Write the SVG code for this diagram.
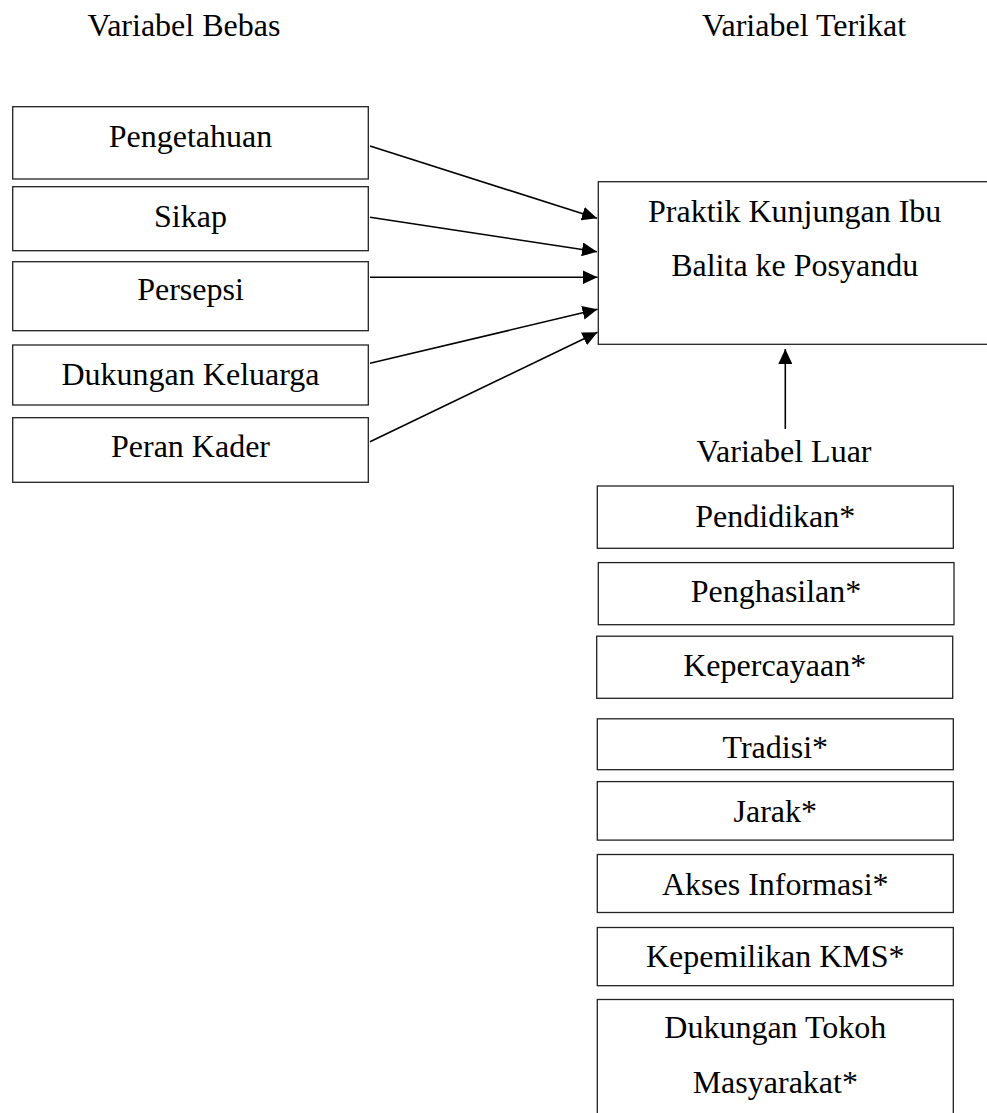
<svg xmlns="http://www.w3.org/2000/svg" width="987" height="1113" viewBox="0 0 987 1113">
<defs>
<marker id="ah" markerWidth="16" markerHeight="14" refX="15" refY="7" orient="auto" markerUnits="userSpaceOnUse">
<path d="M0,0 L15,7 L0,14 Z" fill="#000"/>
</marker>
<style>
.box{fill:#fff;stroke:#222;stroke-width:1.3}
.t{font-family:"Liberation Serif","Times New Roman",serif;font-size:32px;fill:#000;text-anchor:middle}
.c{stroke:#000;stroke-width:1.6;fill:none;marker-end:url(#ah)}
</style>
</defs>
<rect width="987" height="1113" fill="#fff"/>
<g id="titles">
<text class="t" x="184" y="36">Variabel Bebas</text>
<text class="t" x="804" y="36">Variabel Terikat</text>
<text class="t" x="784" y="462">Variabel Luar</text>
</g>
<g id="n-pengetahuan"><rect class="box" x="12.7" y="106.7" width="355.6" height="72.3"/><text class="t" x="190.5" y="147">Pengetahuan</text></g>
<g id="n-sikap"><rect class="box" x="12.7" y="186.7" width="355.6" height="64"/><text class="t" x="190.5" y="227">Sikap</text></g>
<g id="n-persepsi"><rect class="box" x="12.7" y="261.7" width="355.6" height="69"/><text class="t" x="190.5" y="300">Persepsi</text></g>
<g id="n-dukungan-keluarga"><rect class="box" x="12.7" y="345" width="355.6" height="60"/><text class="t" x="190.5" y="385">Dukungan Keluarga</text></g>
<g id="n-peran-kader"><rect class="box" x="12.7" y="417.7" width="355.6" height="64.6"/><text class="t" x="190.5" y="457">Peran Kader</text></g>
<g id="n-praktik"><rect class="box" x="598.3" y="181.7" width="393" height="162.6"/><text class="t" x="794.7" y="221.7">Praktik Kunjungan Ibu</text><text class="t" x="794.7" y="275.7">Balita ke Posyandu</text></g>
<g id="n-pendidikan"><rect class="box" x="597.3" y="486" width="356" height="62.3"/><text class="t" x="775.3" y="526.7">Pendidikan*</text></g>
<g id="n-penghasilan"><rect class="box" x="598.3" y="562.6" width="355.7" height="62.1"/><text class="t" x="776" y="602">Penghasilan*</text></g>
<g id="n-kepercayaan"><rect class="box" x="596.7" y="636.2" width="356" height="62.1"/><text class="t" x="774.7" y="676">Kepercayaan*</text></g>
<g id="n-tradisi"><rect class="box" x="597.3" y="718.8" width="356" height="50.9"/><text class="t" x="775.3" y="758">Tradisi*</text></g>
<g id="n-jarak"><rect class="box" x="597.3" y="781.6" width="356" height="58.5"/><text class="t" x="775.3" y="821.8">Jarak*</text></g>
<g id="n-akses"><rect class="box" x="597.3" y="854.5" width="356" height="58"/><text class="t" x="775.3" y="894.7">Akses Informasi*</text></g>
<g id="n-kms"><rect class="box" x="597.3" y="927.5" width="356" height="58.2"/><text class="t" x="775.3" y="966.7">Kepemilikan KMS*</text></g>
<g id="n-tokoh"><rect class="box" x="597.3" y="999.5" width="356" height="130"/><text class="t" x="775.3" y="1037.5">Dukungan Tokoh</text><text class="t" x="775.3" y="1093.3">Masyarakat*</text></g>
<g id="connectors">
<line class="c" x1="370" y1="146" x2="597" y2="218.3"/>
<line class="c" x1="370" y1="217.3" x2="597" y2="251.7"/>
<line class="c" x1="370" y1="277.3" x2="597.5" y2="277.3"/>
<line class="c" x1="370" y1="363.3" x2="597.5" y2="309.3"/>
<line class="c" x1="370" y1="441.7" x2="597.5" y2="332.3"/>
<line class="c" x1="785.3" y1="429" x2="785.3" y2="349"/>
</g>
</svg>
